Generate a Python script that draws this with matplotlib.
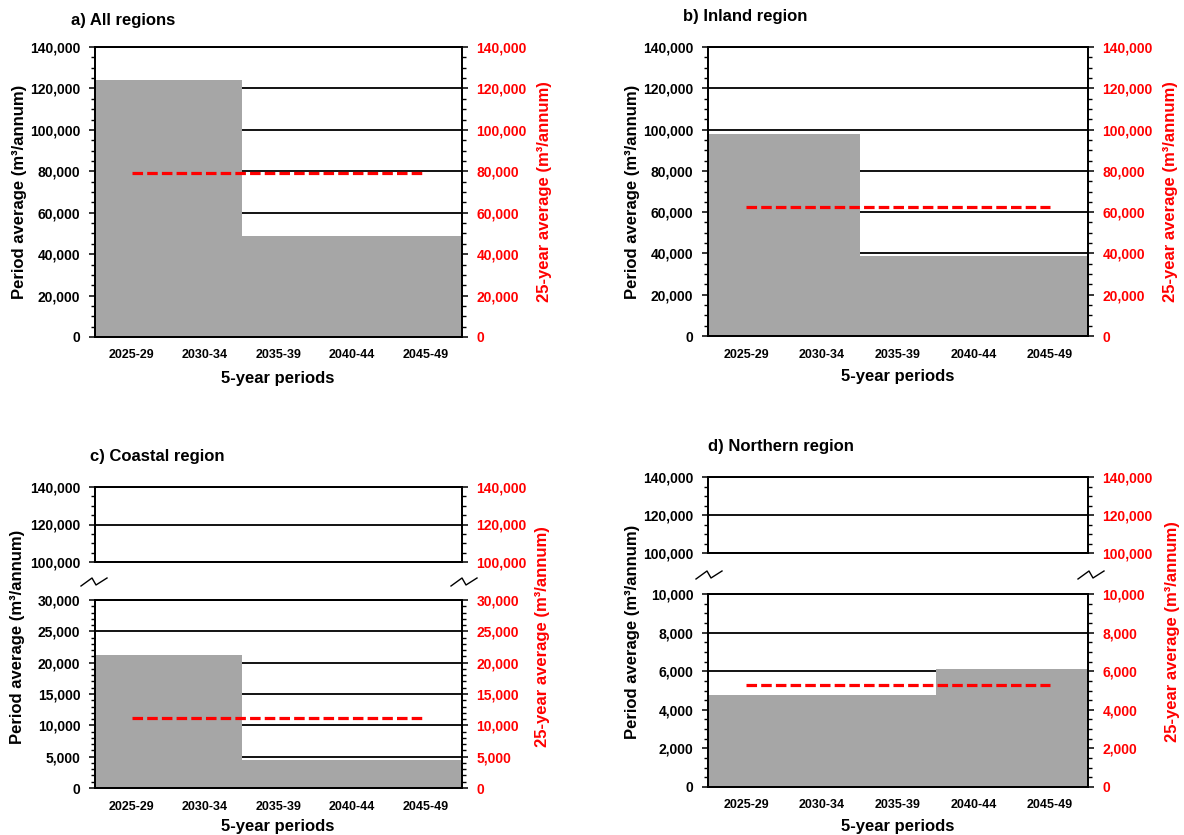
import numpy as np
import matplotlib
matplotlib.use("Agg")
import matplotlib.pyplot as plt
from matplotlib.ticker import MultipleLocator, FuncFormatter
from matplotlib.lines import Line2D

plt.rcParams['font.family'] = ['Liberation Sans', 'DejaVu Sans']
plt.rcParams['font.weight'] = 'bold'

periods = ["2025-29", "2030-34", "2035-39", "2040-44", "2045-49"]

all_regions = [124300, 124300, 49000, 49000, 49000]
inland = [98000, 98000, 38900, 38900, 38900]
coastal = [21300, 21300, 4400, 4400, 4400]
northern = [4760, 4760, 4760, 6090, 6090]

avg_all = 79300
avg_inland = 62500
avg_coastal = 11200
avg_northern = 5300

titles = ["a) All regions", "b) Inland region", "c) Coastal region", "d) Northern region"]
ylabel_left = "Period average (m³/annum)"
ylabel_right = "25-year average (m³/annum)"
xlabel = "5-year periods"

W, H = 1184, 835
fig = plt.figure(figsize=(W / 100, H / 100), dpi=100)

BAR = '#A6A6A6'
fmt = FuncFormatter(lambda v, p: f"{v:,.0f}")


def px_axes(l, r, t, b):
    return fig.add_axes([l / W, 1 - b / H, (r - l) / W, (b - t) / H])


def style(ax, ylim, major, minor, show_x=True):
    ax2 = ax.twinx()
    for a in (ax, ax2):
        a.set_ylim(*ylim)
        a.set_yticks(np.arange(ylim[0], ylim[1] + 1, major))
        a.yaxis.set_minor_locator(MultipleLocator(minor))
        a.yaxis.set_major_formatter(fmt)
        for s in a.spines.values():
            s.set_linewidth(1.3)
            s.set_color('black')
    ax.tick_params(axis='y', which='major', direction='out', length=4.5, width=1.1,
                   labelsize=10, pad=6)
    ax.tick_params(axis='y', which='minor', direction='out', length=3, width=1.0)
    ax2.tick_params(axis='y', which='major', direction='out', length=4.5, width=1.1,
                    labelsize=10, pad=6, labelcolor='#FF0000')
    ax2.tick_params(axis='y', which='minor', direction='out', length=3, width=1.0)
    ax.yaxis.grid(True, which='major', color='black', linewidth=1.3)
    ax.set_axisbelow(True)
    ax.set_xlim(-0.5, len(periods) - 0.5)
    if show_x:
        ax.set_xticks(np.arange(-0.5, len(periods), 1.0))
        ax.set_xticklabels([])
        ax.set_xticks(np.arange(len(periods)), minor=True)
        ax.set_xticklabels(periods, minor=True)
        ax.tick_params(axis='x', which='major', direction='out', length=4, width=1.1)
        ax.tick_params(axis='x', which='minor', length=0, labelsize=9, pad=9)
    else:
        ax.set_xticks([])
    ax2.set_xticks([])
    return ax2


def draw(ax, vals, avg=None):
    x = np.arange(len(periods))
    ax.bar(x, vals, width=1.0, color=BAR, edgecolor='none', zorder=2)
    if avg is not None:
        ax.plot([x[0], x[-1]], [avg, avg], color='#FF0000', linewidth=2.3,
                dashes=(3.3, 1.3), zorder=3)


def break_marks(cx, cy):
    xs = np.array([cx - 13, cx - 2, cx + 2, cx + 13])
    ys = np.array([cy + 4, cy - 4, cy + 3, cy - 4])
    fig.add_artist(Line2D(xs / W, 1 - ys / H, transform=fig.transFigure,
                          color='black', linewidth=1.0))


def labels(lx, rx, cy, xl_y, xc):
    fig.text(lx / W, 1 - cy / H, ylabel_left, rotation=90, ha='center', va='center',
             fontsize=12, fontweight='bold')
    fig.text(rx / W, 1 - cy / H, ylabel_right, rotation=90, ha='center', va='center',
             fontsize=12, fontweight='bold', color='#FF0000')
    fig.text(xc / W, 1 - xl_y / H, xlabel, ha='center', va='center',
             fontsize=12, fontweight='bold')


# a) All regions
axa = px_axes(95, 462, 47, 337)
draw(axa, all_regions, avg_all)
style(axa, (0, 140000), 20000, 5000)
fig.text(71 / W, 1 - 20 / H, titles[0], ha='left', va='center', fontsize=12, fontweight='bold')
labels(20, 544, 192, 378, 278)

# b) Inland region
axb = px_axes(708, 1088, 47, 336)
draw(axb, inland, avg_inland)
style(axb, (0, 140000), 20000, 5000)
fig.text(683 / W, 1 - 17 / H, titles[1], ha='left', va='center', fontsize=12, fontweight='bold')
labels(632, 1170, 192, 377, 898)

# c) Coastal region (broken axis)
axc_t = px_axes(95, 462, 487, 562)
draw(axc_t, coastal)
style(axc_t, (100000, 140000), 20000, 5000, show_x=False)
axc_b = px_axes(95, 462, 600, 788)
draw(axc_b, coastal, avg_coastal)
style(axc_b, (0, 30000), 5000, 1000)
fig.text(90 / W, 1 - 457 / H, titles[2], ha='left', va='center', fontsize=12, fontweight='bold')
labels(18, 543, 637, 826, 278)
break_marks(94, 582)
break_marks(464, 582)

# d) Northern region (broken axis)
axd_t = px_axes(708, 1088, 477, 553)
draw(axd_t, northern)
style(axd_t, (100000, 140000), 20000, 5000, show_x=False)
axd_b = px_axes(708, 1088, 594, 787)
draw(axd_b, northern, avg_northern)
style(axd_b, (0, 10000), 2000, 500)
fig.text(708 / W, 1 - 446 / H, titles[3], ha='left', va='center', fontsize=12, fontweight='bold')
labels(632, 1172, 632, 826, 898)
break_marks(709, 575)
break_marks(1091, 575)

fig.savefig("out.png", dpi=100)
